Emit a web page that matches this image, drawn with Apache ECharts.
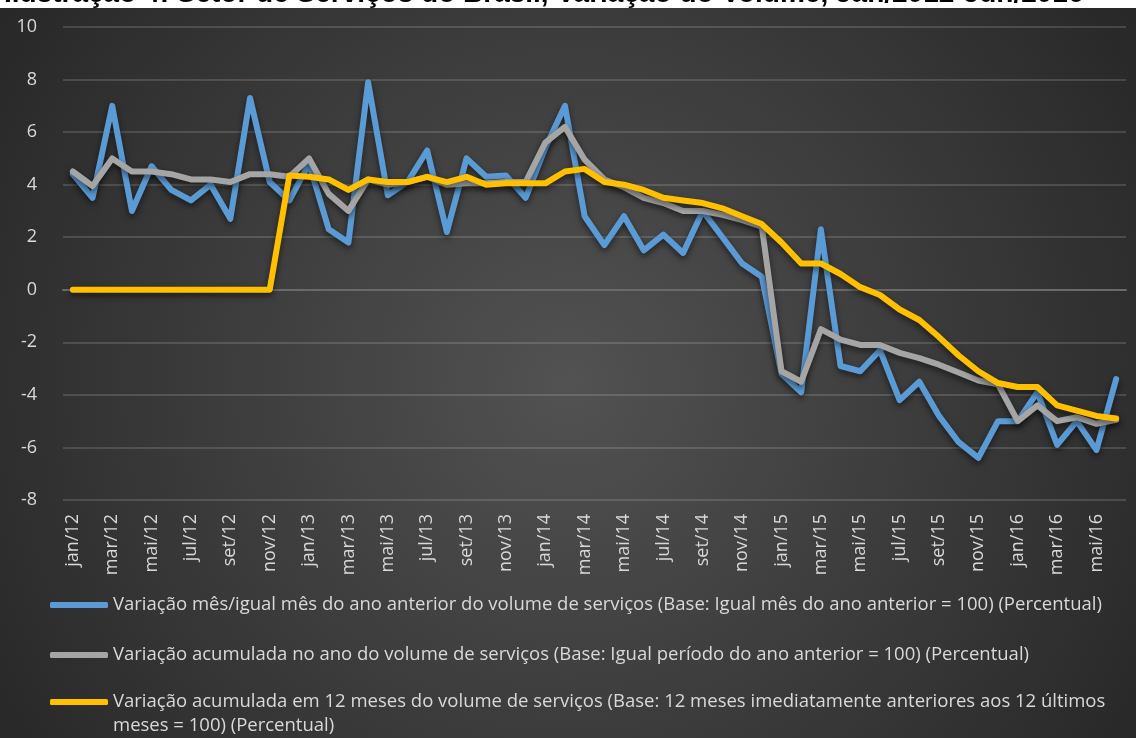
<!DOCTYPE html>
<html>
<head>
<meta charset="utf-8">
<title>Setor de Serviços do Brasil</title>
<script src="https://cdn.jsdelivr.net/npm/echarts@6/dist/echarts.min.js"></script>
<style>
html, body { margin: 0; padding: 0; background: #fff; }
#chart { width: 1136px; height: 738px; }
</style>
</head>
<body>
<div id="chart"></div>
<script>
// categorias (meses)
var meses = [
    'jan/12', 'fev/12', 'mar/12', 'abr/12', 'mai/12', 'jun/12', 'jul/12', 'ago/12', 'set/12', 'out/12', 'nov/12', 'dez/12',
    'jan/13', 'fev/13', 'mar/13', 'abr/13', 'mai/13', 'jun/13', 'jul/13', 'ago/13', 'set/13', 'out/13', 'nov/13', 'dez/13',
    'jan/14', 'fev/14', 'mar/14', 'abr/14', 'mai/14', 'jun/14', 'jul/14', 'ago/14', 'set/14', 'out/14', 'nov/14', 'dez/14',
    'jan/15', 'fev/15', 'mar/15', 'abr/15', 'mai/15', 'jun/15', 'jul/15', 'ago/15', 'set/15', 'out/15', 'nov/15', 'dez/15',
    'jan/16', 'fev/16', 'mar/16', 'abr/16', 'mai/16', 'jun/16'
];

var nomes = [
    'Variação mês/igual mês do ano anterior do volume de serviços (Base: Igual mês do ano anterior = 100) (Percentual)',
    'Variação acumulada no ano do volume de serviços (Base: Igual período do ano anterior = 100) (Percentual)',
    'Variação acumulada em 12 meses do volume de serviços (Base: 12 meses imediatamente anteriores aos 12 últimos meses = 100) (Percentual)'
];

// mês / igual mês do ano anterior
var mensal = [
    4.4, 3.5, 7.0, 3.0, 4.7, 3.8, 3.4, 4.0, 2.7, 7.3, 4.1, 3.4,
    4.8, 2.3, 1.8, 7.9, 3.6, 4.1, 5.3, 2.2, 5.0, 4.3, 4.35, 3.5,
    5.4, 7.0, 2.8, 1.7, 2.8, 1.5, 2.1, 1.4, 3.0, 2.0, 1.0, 0.5,
    -3.2, -3.9, 2.3, -2.9, -3.1, -2.3, -4.2, -3.5, -4.8, -5.8, -6.4, -5.0,
    -5.0, -3.9, -5.9, -5.0, -6.1, -3.4
];

// acumulada no ano
var acumAno = [
    4.5, 3.95, 5.0, 4.5, 4.5, 4.4, 4.2, 4.2, 4.1, 4.4, 4.4, 4.3,
    5.0, 3.65, 3.0, 4.2, 4.0, 4.1, 4.3, 4.0, 4.05, 4.05, 4.1, 4.1,
    5.6, 6.2, 4.95, 4.2, 3.9, 3.5, 3.3, 3.0, 3.0, 2.85, 2.65, 2.4,
    -3.1, -3.5, -1.5, -1.9, -2.1, -2.1, -2.4, -2.6, -2.85, -3.15, -3.45, -3.6,
    -5.0, -4.4, -5.0, -4.85, -5.1, -4.95
];

// acumulada em 12 meses
var acum12 = [
    0, 0, 0, 0, 0, 0, 0, 0, 0, 0, 0, 4.35,
    4.3, 4.2, 3.8, 4.2, 4.1, 4.1, 4.3, 4.1, 4.3, 4.0, 4.05, 4.05,
    4.05, 4.5, 4.6, 4.1, 4.0, 3.8, 3.5, 3.4, 3.3, 3.1, 2.8, 2.5,
    1.8, 1.0, 1.0, 0.6, 0.1, -0.2, -0.75, -1.15, -1.8, -2.5, -3.1, -3.55,
    -3.7, -3.7, -4.4, -4.6, -4.8, -4.9
];

var cores = ['#5B9BD5', '#A5A5A5', '#FFC000'];
var textoCor = '#d9d9d9';
var fonte = 'Open Sans';

function serie(nome, dados, cor) {
    return {
        name: nome,
        type: 'line',
        data: dados,
        symbol: 'none',
        color: cor,
        lineStyle: {
            width: 6,
            cap: 'round',
            join: 'round',
            shadowColor: 'rgba(0,0,0,0.55)',
            shadowBlur: 6,
            shadowOffsetY: 3
        }
    };
}

var myChart = echarts.init(document.getElementById('chart'));

var myoption = {
    backgroundColor: {
        type: 'radial',
        x: 0.5, y: 0.52, r: 0.95,
        colorStops: [
            { offset: 0, color: '#525252' },
            { offset: 1, color: '#262626' }
        ]
    },
    animation: false,
    textStyle: { fontFamily: fonte },
    graphic: [
        {
            type: 'rect', z: 100,
            shape: { x: 0, y: 0, width: 1136, height: 8 },
            style: { fill: '#ffffff' }
        },
        {
            type: 'text', z: 101,
            x: 4, y: 8.5,
            style: {
                text: 'Ilustração 4: Setor de Serviços do Brasil, Variação do Volume, Jan/2012-Jun/2016',
                font: 'bold 28px "Liberation Sans"',
                fill: '#000',
                verticalAlign: 'bottom'
            }
        }
    ],
    grid: { left: 63, right: 10, top: 27, bottom: 238 },
    legend: [
        {
            orient: 'vertical',
            left: 50, top: 594,
            padding: 0,
            itemGap: 28,
            itemWidth: 58, itemHeight: 6,
            icon: 'roundRect',
            data: [nomes[0], nomes[1]],
            textStyle: { color: textoCor, fontSize: 18.5, lineHeight: 22, fontFamily: fonte }
        },
        {
            orient: 'vertical',
            left: 50, top: 666,
            padding: 0,
            itemWidth: 58, itemHeight: 6,
            icon: 'roundRect',
            data: [nomes[2]],
            // linha vazia em cima para o ícone ficar na primeira linha
            formatter: function (n) { return '\n' + n.replace(' últimos ', ' últimos\n'); },
            textStyle: { color: textoCor, fontSize: 18.5, lineHeight: 24, fontFamily: fonte }
        }
    ],
    xAxis: [
        {
            type: 'category',
            data: meses,
            position: 'bottom',
            axisLine: { show: false, onZero: false },
            axisTick: { show: false },
            axisLabel: { interval: 1, rotate: 90, margin: 14, color: textoCor, fontSize: 18, fontFamily: fonte }
        },
        {
            type: 'category',
            data: meses,
            axisLine: { onZero: true, onZeroAxisIndex: 0, lineStyle: { color: '#6a6a6a', width: 2 } },
            axisTick: { interval: 1, length: 7, lineStyle: { color: '#6a6a6a', width: 1.5 } },
            axisLabel: { show: false }
        },
        {
            type: 'category',
            data: meses,
            axisLine: { show: false, onZero: true, onZeroAxisIndex: 0 },
            axisTick: { interval: 1, inside: true, length: 7, lineStyle: { color: '#6a6a6a', width: 1.5 } },
            axisLabel: { show: false }
        }
    ],
    yAxis: {
        type: 'value',
        min: -8, max: 10, interval: 2,
        axisLine: { show: false },
        axisTick: { show: false },
        axisLabel: { color: textoCor, fontSize: 18, margin: 26, fontFamily: fonte },
        splitLine: { lineStyle: { color: 'rgba(255,255,255,0.14)', width: 2 } }
    },
    series: [
        serie(nomes[0], mensal, cores[0]),
        serie(nomes[1], acumAno, cores[1]),
        serie(nomes[2], acum12, cores[2])
    ]
};

myChart.setOption(myoption);

window.onresize = function () {
    myChart.resize();
};
</script>
</body>
</html>
